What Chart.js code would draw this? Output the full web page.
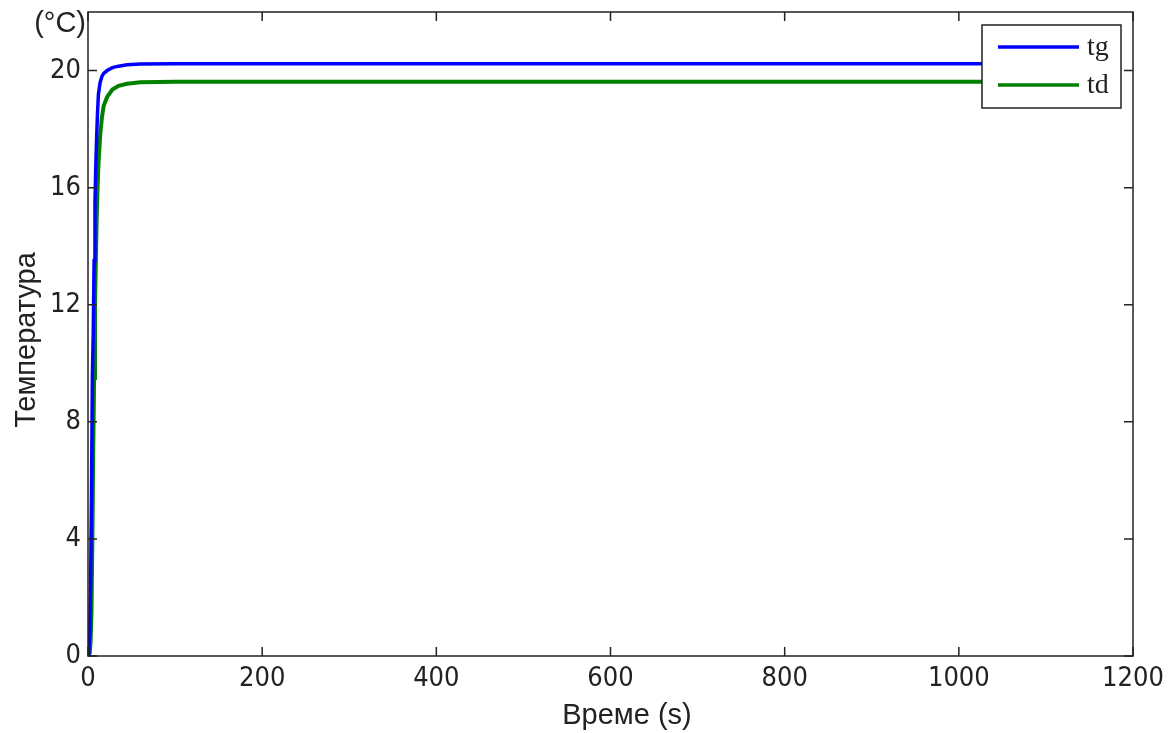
<!DOCTYPE html>
<html>
<head>
<meta charset="utf-8">
<script src="https://cdn.jsdelivr.net/npm/chart.js@4/dist/chart.umd.min.js"></script>
<style>
  html, body { margin: 0; padding: 0; background: #fff; }
  #wrap { width: 1169px; height: 733px; }
</style>
</head>
<body>
<div id="wrap"><canvas id="chartTemp"></canvas></div>
<script>
// time (s) and temperatures
var timeTg = [0, 1, 2, 3, 4, 5, 6, 7, 8, 9, 10, 11, 12, 14, 16, 18, 22, 28, 35, 45, 60, 100, 300, 600, 900, 1100];
var tg =     [0, 0.2, 0.8, 2.5, 5.5, 9.5, 11, 13.5, 15.5, 16.8, 17.8, 18.6, 19.2, 19.6, 19.8, 19.9, 20.0, 20.1, 20.15, 20.2, 20.22, 20.23, 20.23, 20.23, 20.23, 20.23];
var timeTd = [0, 1, 2, 3, 4, 5, 6, 7, 8, 9, 10, 11, 12, 14, 16, 18, 22, 28, 35, 45, 60, 100, 300, 600, 900, 1100];
var td =     [0, 0, 0.1, 0.5, 1.5, 4, 7, 9.5, 12, 13.5, 15, 16, 16.8, 17.8, 18.4, 18.8, 19.1, 19.35, 19.48, 19.55, 19.6, 19.62, 19.62, 19.62, 19.62, 19.62];
var yTicks = [0, 4, 8, 12, 16, 20];
var xTicks = [0, 200, 400, 600, 800, 1000, 1200];

var tickFont = '27px "Liberation Sans Narrow", "DejaVu Sans Condensed", sans-serif';
var titleFont = '29px "Liberation Sans", Arial, sans-serif';

var pts = function (xs, ys) { return xs.map(function (x, i) { return { x: x, y: ys[i] }; }); };

// frame, inward ticks, labels, titles and legend box
var matlabLook = {
    id: 'matlabLook',
    afterDraw: function (chart) {
        var ctx = chart.ctx, a = chart.chartArea;
        var xs = chart.scales.x, ys = chart.scales.y;
        ctx.save();
        ctx.strokeStyle = '#222';
        ctx.lineWidth = 1.5;
        ctx.strokeRect(a.left, a.top, a.right - a.left, a.bottom - a.top);
        ctx.fillStyle = '#222';
        ctx.font = tickFont;
        ctx.beginPath();
        yTicks.forEach(function (v) {
            var p = ys.getPixelForValue(v);
            ctx.moveTo(a.left, p); ctx.lineTo(a.left + 9, p);
            ctx.moveTo(a.right, p); ctx.lineTo(a.right - 9, p);
        });
        xTicks.forEach(function (v) {
            var p = xs.getPixelForValue(v);
            ctx.moveTo(p, a.bottom); ctx.lineTo(p, a.bottom - 9);
            ctx.moveTo(p, a.top); ctx.lineTo(p, a.top + 9);
        });
        ctx.stroke();
        ctx.textAlign = 'right';
        ctx.textBaseline = 'middle';
        yTicks.forEach(function (v) {
            ctx.fillText(String(v), a.left - 7, ys.getPixelForValue(v));
        });
        ctx.textAlign = 'center';
        ctx.textBaseline = 'top';
        xTicks.forEach(function (v) {
            ctx.fillText(String(v), xs.getPixelForValue(v), a.bottom + 9);
        });

        ctx.font = titleFont;
        ctx.textAlign = 'right';
        ctx.textBaseline = 'top';
        ctx.fillText('(°C)', a.left - 2, 9);
        ctx.textAlign = 'center';
        ctx.textBaseline = 'middle';
        ctx.fillText('Време (s)', 627, 716);
        ctx.save();
        ctx.translate(27, 340);
        ctx.rotate(-Math.PI / 2);
        ctx.fillText('Температура', 0, 0);
        ctx.restore();

        // legend
        var lx = 982, ly = 25, lw = 139, lh = 83;
        ctx.fillStyle = '#fff';
        ctx.fillRect(lx, ly, lw, lh);
        ctx.lineWidth = 1.5;
        ctx.strokeStyle = '#222';
        ctx.strokeRect(lx, ly, lw, lh);
        ctx.lineWidth = 3.5;
        chart.data.datasets.forEach(function (ds, i) {
            var yy = ly + 22 + i * 38;
            ctx.strokeStyle = ds.borderColor;
            ctx.beginPath();
            ctx.moveTo(lx + 16, yy); ctx.lineTo(lx + 97, yy);
            ctx.stroke();
            ctx.fillStyle = '#222';
            ctx.font = '28px "Liberation Serif", serif';
            ctx.textAlign = 'left';
            ctx.textBaseline = 'middle';
            ctx.fillText(ds.label, lx + 105, yy + 1);
        });
        ctx.restore();
    }
};

var chartTemp = new Chart(document.getElementById('chartTemp'), {
    type: 'line',
    plugins: [matlabLook],
    data: {
        datasets: [
            { label: 'tg', data: pts(timeTg, tg), borderColor: '#0000ff', borderWidth: 3.5, pointRadius: 0, tension: 0 },
            { label: 'td', data: pts(timeTd, td), borderColor: '#008000', borderWidth: 4, pointRadius: 0, tension: 0 }
        ]
    },
    options: {
        responsive: true,
        maintainAspectRatio: false,
        animation: false,
        layout: { padding: { top: 12, right: 36, left: 0, bottom: 0 } },
        scales: {
            x: {
                type: 'linear', min: 0, max: 1200,
                grid: { display: false }, border: { display: false },
                ticks: { display: false },
                afterFit: function (s) { s.height = 77; }
            },
            y: {
                min: 0, max: 22,
                grid: { display: false }, border: { display: false },
                ticks: { display: false },
                afterFit: function (s) { s.width = 88; }
            }
        },
        plugins: {
            legend: { display: false },
            tooltip: { enabled: false }
        }
    }
});
</script>
</body>
</html>
